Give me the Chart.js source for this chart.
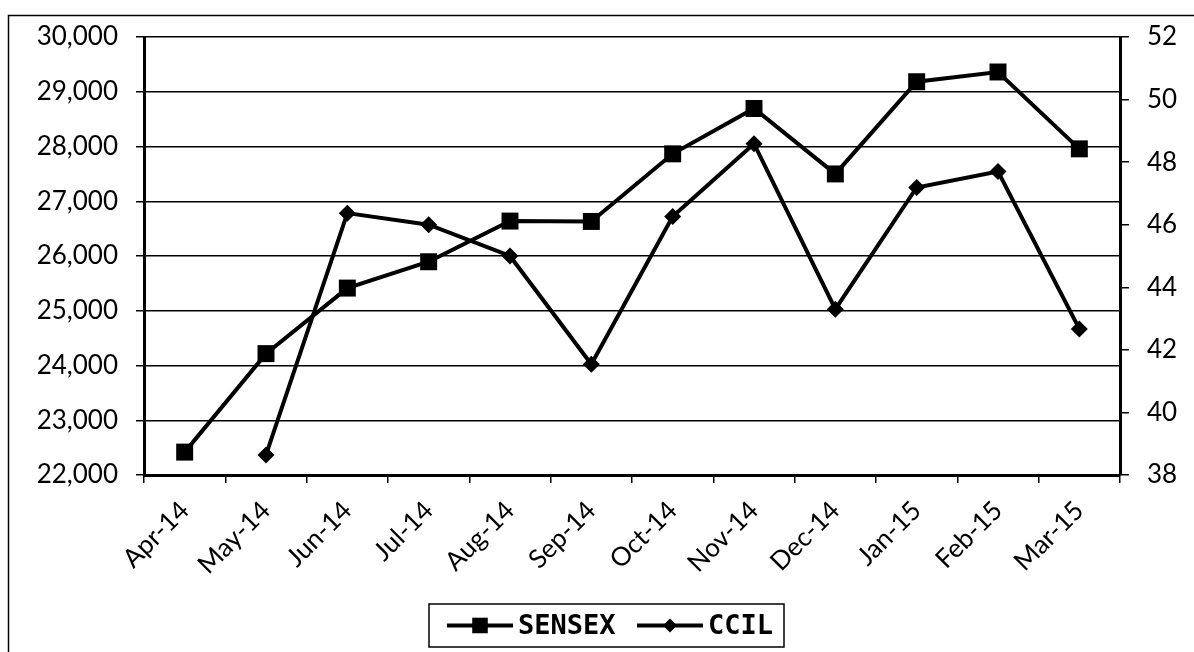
<!DOCTYPE html>
<html>
<head>
<meta charset="utf-8">
<script src="https://cdn.jsdelivr.net/npm/chart.js@4"></script>
<style>
  html, body { margin: 0; padding: 0; background: #fff; overflow: hidden; }
  #grafica { display: block; }
</style>
</head>
<body>
<canvas id="grafica" width="1194" height="652"></canvas>
<script>
const meses = ['Apr-14', 'May-14', 'Jun-14', 'Jul-14', 'Aug-14', 'Sep-14', 'Oct-14', 'Nov-14', 'Dec-14', 'Jan-15', 'Feb-15', 'Mar-15'];
const sensex = [22418, 24217, 25414, 25895, 26638, 26631, 27866, 28694, 27499, 29183, 29361, 27957];
const ccil = [null, 38.64, 46.37, 46.0, 45.0, 41.54, 46.26, 48.59, 43.3, 47.19, 47.7, 42.67];

const fuenteEjes = { family: 'Lato, "Open Sans", sans-serif', size: 26 };

// borde exterior del grafico (cortado a la derecha y abajo como en la imagen)
const bordeExterior = {
    id: 'bordeExterior',
    beforeDraw(chart) {
        const ctx = chart.ctx;
        ctx.save();
        ctx.fillStyle = '#fff';
        ctx.fillRect(0, 0, chart.width, chart.height);
        ctx.strokeStyle = '#000';
        ctx.lineWidth = 1.5;
        ctx.strokeRect(8.5, 15.5, 1300, 800);
        ctx.restore();
    }
};

// leyenda con linea + marcador dentro de un recuadro
const leyendaCaja = {
    id: 'leyendaCaja',
    afterDraw(chart) {
        const ctx = chart.ctx;
        const caja = { x: 429, y: 604, w: 355, h: 43 };
        ctx.save();
        ctx.fillStyle = '#fff';
        ctx.fillRect(caja.x, caja.y, caja.w, caja.h);
        ctx.strokeStyle = '#000';
        ctx.lineWidth = 1.5;
        ctx.strokeRect(caja.x, caja.y, caja.w, caja.h);

        const cy = caja.y + caja.h / 2;
        const entradas = [{ x: 447 }, { x: 637 }];
        ctx.font = 'bold 27px "DejaVu Sans Mono", monospace';
        ctx.textBaseline = 'middle';
        chart.data.datasets.forEach(function(ds, i) {
            const x0 = entradas[i].x;
            ctx.strokeStyle = '#000';
            ctx.lineWidth = 4;
            ctx.beginPath();
            ctx.moveTo(x0, cy);
            ctx.lineTo(x0 + 66, cy);
            ctx.stroke();
            ctx.fillStyle = '#000';
            Chart.helpers.drawPoint(ctx, {
                pointStyle: ds.pointStyle,
                radius: ds.pointStyle === 'rect' ? 11 : 7,
                borderWidth: 0
            }, x0 + 33, cy);
            ctx.fillStyle = '#000';
            ctx.fillText(ds.label, x0 + 71, cy + 1);
        });
        ctx.restore();
    }
};

const ctx = document.getElementById('grafica').getContext('2d');
new Chart(ctx, {
    type: 'line',
    data: {
        labels: meses,
        datasets: [{
            label: 'SENSEX',
            data: sensex,
            yAxisID: 'y',
            borderColor: '#000',
            backgroundColor: '#000',
            borderWidth: 4,
            pointStyle: 'rect',
            pointRadius: 12,
            pointBorderWidth: 0,
            tension: 0
        }, {
            label: 'CCIL',
            data: ccil,
            yAxisID: 'y1',
            borderColor: '#000',
            backgroundColor: '#000',
            borderWidth: 4,
            pointStyle: 'rectRot',
            pointRadius: 8.5,
            pointBorderWidth: 0,
            tension: 0
        }]
    },
    options: {
        responsive: false,
        animation: false,
        layout: { padding: { top: 37, left: 0, right: 0, bottom: 0 } },
        plugins: {
            legend: { display: false },
            tooltip: { enabled: false }
        },
        scales: {
            x: {
                type: 'category',
                offset: true,
                grid: { offset: true, drawOnChartArea: false, tickLength: 8, color: '#000', lineWidth: 1.5 },
                border: { color: '#000', width: 3 },
                ticks: { color: '#000', font: fuenteEjes, minRotation: 45, maxRotation: 45, padding: 12, autoSkip: false },
                afterFit: function(scale) { scale.height = 177; }
            },
            y: {
                position: 'left',
                min: 22000,
                max: 30000,
                grid: { color: '#000', lineWidth: 1.5, tickLength: 8 },
                border: { color: '#000', width: 3 },
                ticks: {
                    stepSize: 1000,
                    color: '#000',
                    font: fuenteEjes,
                    padding: 18,
                    callback: function(v) { return v.toLocaleString('en-US'); }
                },
                afterFit: function(scale) { scale.width = 144; }
            },
            y1: {
                position: 'right',
                min: 38,
                max: 52,
                grid: { drawOnChartArea: false, color: '#000', lineWidth: 1.5, tickLength: 9 },
                border: { color: '#000', width: 3 },
                ticks: { stepSize: 2, color: '#000', font: fuenteEjes, padding: 18 },
                afterFit: function(scale) { scale.width = 74; }
            }
        }
    },
    plugins: [bordeExterior, leyendaCaja]
});
</script>
</body>
</html>
